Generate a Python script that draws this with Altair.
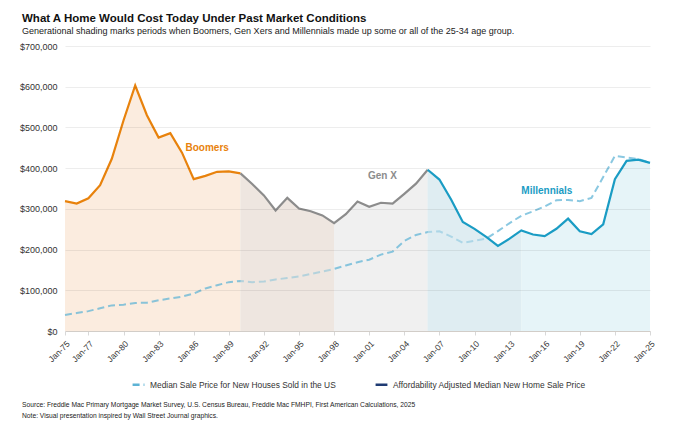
import altair as alt
import pandas as pd

years = list(range(1975, 2026))

# Affordability adjusted median new home sale price ($)
adjusted = [319000, 313000, 326000, 358000, 423000, 517000, 603000, 530000, 475000, 486000,
            438000, 373000, 381000, 391000, 392000, 387000,
            361000, 333000, 296000, 327000, 301000, 294000, 284000, 265000, 287000, 318000,
            305000, 315000, 313000, 337000, 362000, 396000,
            372000, 323000, 268000, 251000, 231000, 209000, 227000, 247000, 237000, 233000,
            251000, 276000, 245000, 238000, 262000, 373000, 418000, 421000, 413000]

# Median sale price for new houses sold in the US ($)
median = [39300, 44200, 48800, 55700, 62900, 64600, 68900, 69300, 75300, 79900,
          84300, 92000, 104500, 112500, 120000, 122900, 120000, 121500, 126500, 130000,
          133900, 140000, 146000, 152500, 161000, 169000, 175200, 187600, 195000, 221000,
          236000, 243000, 245000, 232000, 216700, 221800, 227200, 245200, 265000, 283000,
          294000, 306000, 321000, 322000, 319000, 327000, 378000, 430000, 426000, 422000, 414000]

tick_years = [1975, 1977, 1980, 1983, 1986, 1989, 1992, 1995, 1998, 2001, 2004, 2007,
              2010, 2013, 2016, 2019, 2022, 2025]
y_ticks = [0, 100000, 200000, 300000, 400000, 500000, 600000, 700000]

period_names = ["Boomers", "Boomers + Gen X", "Gen X", "Gen X + Millennials", "Millennials"]
period_starts = [1975, 1990, 1998, 2006, 2014]
period_ends = [1990, 1998, 2006, 2014, 2025]
period_fills = ["#fbecdf", "#eee6e0", "#f0f0f0", "#dfedf2", "#e6f4f8"]
overlap_periods = ["Boomers + Gen X", "Gen X + Millennials"]

gen_names = ["Boomers", "Gen X", "Millennials"]
gen_starts = [1975, 1990, 2006]
gen_ends = [1990, 2006, 2025]
gen_colors = ["#e8820c", "#8c8c8c", "#1a9cc4"]
label_year = [1985.3, 2000.9, 2014.0]
label_value = [449000, 381000, 345000]

series_names = ["Median Sale Price for New Houses Sold in the US",
                "Affordability Adjusted Median New Home Sale Price"]
series_colors = ["#5db3d5", "#1f3b73"]

title_text = "What A Home Would Cost Today Under Past Market Conditions"
subtitle_text = ("Generational shading marks periods when Boomers, Gen Xers and Millennials "
                 "made up some or all of the 25-34 age group.")
source_text = ("Source: Freddie Mac Primary Mortgage Market Survey, U.S. Census Bureau, "
               "Freddie Mac FMHPI, First American Calculations, 2025")
note_text = "Note: Visual presentation inspired by Wall Street Journal graphics."

FONT = "Liberation Sans"

# ---- tables built from the lists ----
area_rows = []
for name, s, e in zip(period_names, period_starts, period_ends):
    for y, v in zip(years, adjusted):
        if s <= y <= e:
            area_rows.append({"period": name, "year": y, "value": v})
area_df = pd.DataFrame(area_rows)

line_rows = []
for name, s, e in zip(gen_names, gen_starts, gen_ends):
    for y, v in zip(years, adjusted):
        if s <= y <= e:
            line_rows.append({"gen": name, "year": y, "value": v})
line_df = pd.DataFrame(line_rows)

med_df = pd.DataFrame({"year": years, "value": median, "series": series_names[0]})
lab_df = pd.DataFrame({"gen": gen_names, "year": label_year, "value": label_value})
note_df = pd.DataFrame({"t": [source_text + "\n" + note_text]})

x_scale = alt.Scale(domain=[1975, 2025], nice=False, zero=False)
y_scale = alt.Scale(domain=[0, 700000], nice=False)

x_axis = alt.Axis(values=tick_years,
                  labelExpr="'Jan-' + substring(toString(datum.value), 2, 4)",
                  labelAngle=-45, labelFontSize=8.5, labelColor="#333333",
                  labelFont=FONT, grid=False, tickColor="#d8d8d8", tickSize=4,
                  domainColor="#e2ddd8", labelPadding=4, labelOverlap=False,
                  labelFlush=False, labelBound=False)
x_enc = alt.X("year:Q", scale=x_scale, title=None, axis=x_axis)
y_enc = alt.Y("value:Q", scale=y_scale, stack=None, title=None,
              axis=alt.Axis(values=y_ticks, format="$,.0f", labelFontSize=9,
                            labelColor="#333333", labelFont=FONT, domain=False, ticks=False,
                            gridColor="#000000", gridOpacity=0.07, labelPadding=8, zindex=1))

fill_scale = alt.Scale(domain=period_names, range=period_fills)

area = alt.Chart(area_df).mark_area(opacity=1, line=False).encode(
    x=x_enc, y=y_enc,
    fill=alt.Fill("period:N", scale=fill_scale, legend=None),
    detail="period:N",
)

legend = alt.Legend(orient="none", legendX=66, legendY=331, direction="horizontal",
                    title=None, labelFontSize=8.4, labelFont=FONT, labelColor="#333333",
                    symbolType="stroke", symbolStrokeWidth=2.5, symbolSize=140,
                    symbolOpacity=1, columnPadding=34, labelLimit=400, padding=0)

dashed = alt.Chart(med_df).mark_line(strokeWidth=2, opacity=0.72).encode(
    x=x_enc, y=y_enc,
    color=alt.Color("series:N", scale=alt.Scale(domain=series_names, range=series_colors),
                    legend=legend),
    strokeDash=alt.StrokeDash("series:N",
                              scale=alt.Scale(domain=series_names, range=[[7, 4], [1, 0]]),
                              legend=legend),
)

tint = alt.Chart(area_df).transform_filter(
    alt.FieldOneOfPredicate(field="period", oneOf=overlap_periods)
).mark_area(opacity=0.45).encode(
    x=x_enc, y=y_enc,
    fill=alt.Fill("period:N", scale=fill_scale, legend=None),
    detail="period:N",
)

lines = alt.Chart(line_df).mark_line(strokeWidth=2.2).encode(
    x=x_enc, y=y_enc,
    stroke=alt.Stroke("gen:N", scale=alt.Scale(domain=gen_names, range=gen_colors), legend=None),
    detail="gen:N",
)

labels = alt.Chart(lab_df).mark_text(align="left", baseline="middle", fontWeight="bold",
                                     fontSize=10, font=FONT).encode(
    x=x_enc, y=y_enc, text="gen:N",
    fill=alt.Fill("gen:N", scale=alt.Scale(domain=gen_names, range=gen_colors), legend=None),
)

notes = alt.Chart(note_df).mark_text(align="left", baseline="middle", fontSize=6.7, font=FONT,
                                     color="#222222", lineBreak="\n", lineHeight=11).encode(
    x=alt.value(-43), y=alt.value(359), text="t:N",
)

chart = alt.layer(area, dashed, tint, lines, labels, notes).resolve_scale(
    fill="independent"
).properties(
    width=585, height=285,
    autosize=alt.AutoSizeParams(type="none"),
    padding={"left": 57, "top": 38, "right": 30, "bottom": 91},
    title=alt.TitleParams(text=title_text, subtitle=subtitle_text, anchor="start",
                          frame="group", dx=-43, offset=6, font=FONT, fontSize=11.5,
                          fontWeight="bold", color="#111111", subtitleFont=FONT,
                          subtitleFontSize=9, subtitleColor="#222222", subtitlePadding=3),
).configure_view(stroke=None).configure_axisX(labelOverlap=False)

chart.save("out.html", embed_options={"renderer": "svg", "actions": False})
